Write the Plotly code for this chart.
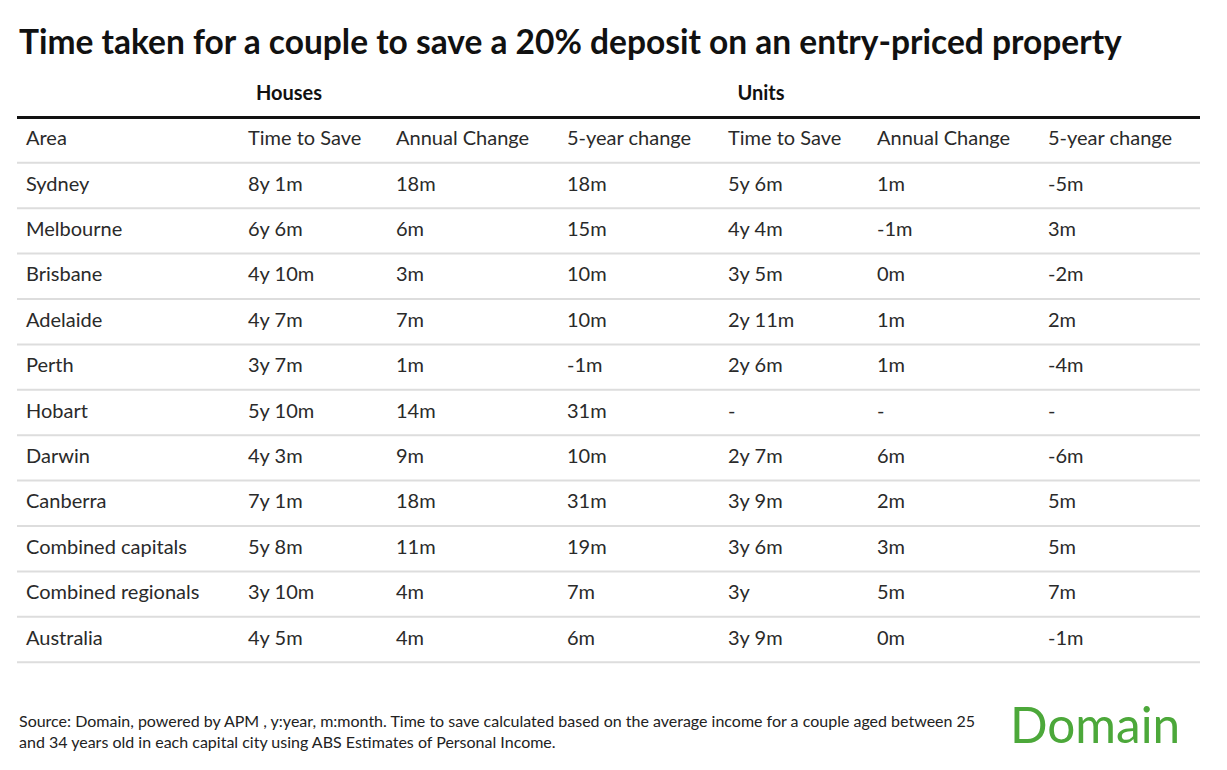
import plotly.graph_objects as go

# Dados da tabela
areas = ["Sydney", "Melbourne", "Brisbane", "Adelaide", "Perth", "Hobart",
         "Darwin", "Canberra", "Combined capitals", "Combined regionals", "Australia"]
houses_time = ["8y 1m", "6y 6m", "4y 10m", "4y 7m", "3y 7m", "5y 10m",
               "4y 3m", "7y 1m", "5y 8m", "3y 10m", "4y 5m"]
houses_annual = ["18m", "6m", "3m", "7m", "1m", "14m", "9m", "18m", "11m", "4m", "4m"]
houses_5yr = ["18m", "15m", "10m", "10m", "-1m", "31m", "10m", "31m", "19m", "7m", "6m"]
units_time = ["5y 6m", "4y 4m", "3y 5m", "2y 11m", "2y 6m", "-",
              "2y 7m", "3y 9m", "3y 6m", "3y", "3y 9m"]
units_annual = ["1m", "-1m", "0m", "1m", "1m", "-", "6m", "2m", "3m", "5m", "0m"]
units_5yr = ["-5m", "3m", "-2m", "2m", "-4m", "-", "-6m", "5m", "5m", "7m", "-1m"]

col_headers = ["Area", "Time to Save", "Annual Change", "5-year change",
               "Time to Save", "Annual Change", "5-year change"]
group_labels = ["Houses", "Units"]

title = "Time taken for a couple to save a 20% deposit on an entry-priced property"
source = ("Source: Domain, powered by APM , y:year, m:month. Time to save calculated based on the "
          "average income for a couple aged between 25<br>and 34 years old in each capital city "
          "using ABS Estimates of Personal Income.")

# ---------------------------------------------------------
# Layout da tabela (posições em px da janela; a página tem margem de 8px)
# ---------------------------------------------------------
OFF = 8
OFF_Y = 6.5
W, H = 1227 - 2 * OFF, 770 - 2 * OFF
col_x = [p - OFF for p in [26, 248, 396, 567, 728, 877, 1048]]
group_x = [p - OFF for p in [289, 761]]
row0_px, row_h = 184 - OFF_Y, 45.4
table_left, table_right = 17 - OFF, 1200 - OFF

FONT = "Lato"
TXT = "#2a2a2a"

colunas = [areas, houses_time, houses_annual, houses_5yr, units_time, units_annual, units_5yr]
n = len(areas)

fig = go.Figure()

# Uma trace de texto por coluna (linha -1 = cabeçalho)
for j, (hdr, valores) in enumerate(zip(col_headers, colunas)):
    fig.add_trace(go.Scatter(
        x=[col_x[j]] * (n + 1),
        y=list(range(-1, n)),
        mode="text",
        text=[hdr] + valores,
        textposition="middle right",
        textfont=dict(family=FONT, size=20, color=TXT),
        hoverinfo="skip",
        showlegend=False,
    ))

# Rótulos de grupo (Houses / Units)
fig.add_trace(go.Scatter(
    x=group_x, y=[-2, -2], mode="text",
    text=[f"<b>{g}</b>" for g in group_labels],
    textposition="middle center",
    textfont=dict(family=FONT, size=20, color="#111111"),
    hoverinfo="skip", showlegend=False,
))

# Linhas horizontais
fig.add_shape(type="line", x0=table_left, x1=table_right, y0=-1.5, y1=-1.5,
              line=dict(color="#111111", width=3))
for i in range(n + 1):
    fig.add_shape(type="line", x0=table_left, x1=table_right, y0=i - 0.5, y1=i - 0.5,
                  line=dict(color="#dddddd", width=2))

# Título, fonte e logo
fig.add_annotation(x=(17 - OFF) / W, y=1 - (39 - OFF_Y) / H, xref="paper", yref="paper",
                   xanchor="left", yanchor="middle", showarrow=False,
                   text=f"<b>{title}</b>",
                   font=dict(family=FONT, size=33.5, color="#111111"))
fig.add_annotation(x=(17 - OFF) / W, y=1 - (729 - OFF_Y) / H, xref="paper", yref="paper",
                   xanchor="left", yanchor="middle", showarrow=False, align="left",
                   text=source,
                   font=dict(family=FONT, size=16, color="#222222"))
fig.add_annotation(x=(1182 - OFF) / W, y=1 - (722 - OFF_Y) / H, xref="paper", yref="paper",
                   xanchor="right", yanchor="middle", showarrow=False,
                   text="Domain",
                   font=dict(family=FONT, size=49.5, color="#4ca83a"))

fig.update_layout(
    width=W, height=H,
    margin=dict(l=0, r=0, t=0, b=0),
    paper_bgcolor="white", plot_bgcolor="white",
    showlegend=False,
)
fig.update_xaxes(range=[0, W], visible=False, fixedrange=True)
fig.update_yaxes(range=[(H - row0_px) / row_h, -row0_px / row_h],
                 visible=False, fixedrange=True)

fig.write_html("out.html")
